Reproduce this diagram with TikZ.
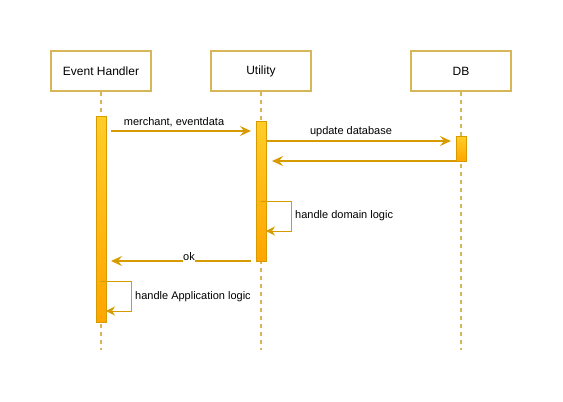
\documentclass[tikz,border=0pt]{standalone}
\usepackage{fontspec}
\setmainfont{Liberation Sans}
\usetikzlibrary{arrows.meta}
\definecolor{boxline}{HTML}{D6B656}
\definecolor{arrline}{HTML}{D79B00}
\definecolor{acttop}{HTML}{FFCD28}
\definecolor{actbot}{HTML}{FFA500}
\tikzset{
  actor/.style={draw=boxline, line width=1.6pt, fill=white, minimum width=100pt, minimum height=40pt, inner sep=0pt, font=\fontsize{12}{14}\selectfont},
  life/.style={draw=boxline, line width=1.6pt, dash pattern=on 4pt off 4pt},
  act/.style={draw=arrline, line width=0.8pt, top color=acttop, bottom color=actbot, minimum width=10pt, inner sep=0pt},
  msg/.style={draw=arrline, line width=1.6pt, -{Stealth[length=11pt,width=10pt,inset=4pt]}},
  selfmsg/.style={draw=arrline, line width=1pt, -{Stealth[length=9pt,width=9pt,inset=3pt]}},
  lbl/.style={font=\fontsize{11}{13}\selectfont, inner sep=1pt}
}
\begin{document}
\begin{tikzpicture}[x=1pt,y=-1pt]
\useasboundingbox (0,0) rectangle (563,402);
% lifelines
\coordinate (l1e) at (101,350);
\coordinate (l2e) at (261,350);
\coordinate (l3e) at (461,350);
\node[actor] (eh) at (101,71) {Event Handler};
\node[actor] (ut) at (261,71) {Utility};
\node[actor] (db) at (461,71) {DB};
\draw[life] (eh.south) -- (l1e);
\draw[life] (ut.south) -- (l2e);
\draw[life] (db.south) -- (l3e);
% activations
\node[act, minimum height=206pt] (a1) at (101,219) {};
\node[act, minimum height=140pt] (a2) at (261,191) {};
\node[act, minimum height=25pt] (a3) at (461,148.5) {};
% message endpoints
\coordinate (m1s) at (111,131);
\coordinate (m1e) at (251,131);
\coordinate (m2s) at (266,141);
\coordinate (m2e) at (451,141);
\coordinate (m3s) at (456,161);
\coordinate (m3e) at (272,161);
\coordinate (m4s) at (251,261);
\coordinate (m4e) at (111,261);
% messages
\draw[msg] (m1s) -- (m1e);
\node[lbl] (t1) at (174,122) {merchant, eventdata};
\draw[msg] (m2s) -- (m2e);
\node[lbl] (t2) at (351,132) {update database};
\draw[msg] (m3s) -- (m3e);
\draw[msg] (m4s) -- (m4e);
\node[lbl, fill=white, inner sep=0.5pt] (ok) at (189,257) {ok};
% self calls
\coordinate (s1a) at (261,201);
\coordinate (s1b) at (291,201);
\coordinate (s1c) at (291,231);
\coordinate (s1d) at (266,231);
\draw[selfmsg] (s1a) -- (s1b) -- (s1c) -- (s1d);
\node[lbl, anchor=west] (sl1) at (294,215.5) {handle domain logic};
\coordinate (s2a) at (101,281);
\coordinate (s2b) at (131,281);
\coordinate (s2c) at (131,311);
\coordinate (s2d) at (106,311);
\draw[selfmsg] (s2a) -- (s2b) -- (s2c) -- (s2d);
\node[lbl, anchor=west] (sl2) at (134,296.5) {handle Application logic};
\end{tikzpicture}
\end{document}
